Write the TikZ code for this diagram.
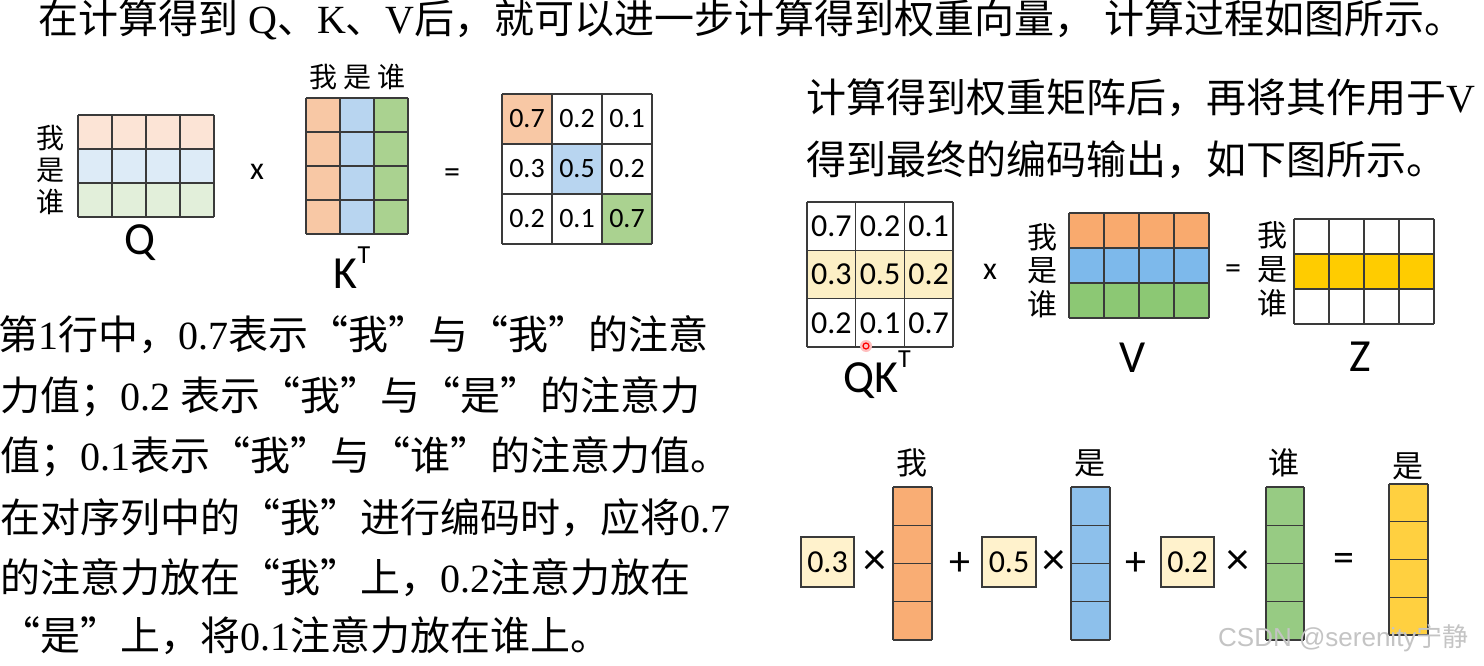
\documentclass[tikz,border=0pt]{standalone}
\usepackage{fontspec}
\setmainfont{Liberation Serif}
\newfontfamily\cjk[RawFeature=+fwid]{Noto Sans CJK SC}
\newfontfamily\cjks{Noto Sans CJK SC}
\newfontfamily\calib{Carlito}
\newfontfamily\arialf{Liberation Sans}
\newcommand\C[1]{{\cjk #1}}
\newcommand\supT{\raisebox{0.55em}{\fontsize{26}{26}\selectfont T}}
\definecolor{qO}{HTML}{FCE4D6}
\definecolor{qB}{HTML}{DDEBF7}
\definecolor{qG}{HTML}{E2EFDA}
\definecolor{kO}{HTML}{F8C8A5}
\definecolor{kB}{HTML}{B8D5F0}
\definecolor{kG}{HTML}{AAD290}
\definecolor{vO}{HTML}{F9AA6E}
\definecolor{vB}{HTML}{7DB9EB}
\definecolor{vG}{HTML}{8CC874}
\definecolor{bO}{HTML}{F9AD74}
\definecolor{bB}{HTML}{8DC0EB}
\definecolor{bG}{HTML}{97CB83}
\definecolor{bY}{HTML}{FFD040}
\definecolor{zY}{HTML}{FFCC00}
\definecolor{lY}{HTML}{FCEFC5}
\definecolor{wY}{HTML}{FFF2CC}
\definecolor{lc}{HTML}{3A3A3A}
\definecolor{wm}{HTML}{C4C4C4}
\newcommand\cellgrid[6]{%
  \foreach \i in {0,...,#3} \draw[ln] ({#1+\i*#5},#2) -- ({#1+\i*#5},{#2+#4*#6});
  \foreach \j in {0,...,#4} \draw[ln] (#1,{#2+\j*#6}) -- ({#1+#3*#5},{#2+\j*#6});}
\begin{document}
\begin{tikzpicture}[x=1pt,y=-1pt,
  ln/.style={draw=lc, line width=1.4pt},
  para/.style={anchor=west, inner sep=0pt, font=\fontsize{40}{40}\selectfont},
  lab/.style={inner sep=0pt, font=\cjks\fontsize{28}{28}\selectfont},
  blab/.style={inner sep=0pt, font=\cjks\fontsize{31}{31}\selectfont},
  num/.style={inner sep=0pt, font=\calib\fontsize{28}{28}\selectfont},
  numb/.style={inner sep=0pt, font=\calib\fontsize{32}{32}\selectfont},
  big/.style={inner sep=0pt, font=\calib\fontsize{46}{46}\selectfont},
  op/.style={inner sep=0pt, font=\calib\fontsize{32}{32}\selectfont},
  opx/.style={inner sep=0pt, font=\calib\fontsize{46}{46}\selectfont},
  opb/.style={inner sep=0pt, font=\calib\fontsize{42}{42}\selectfont},
  wbox/.style={draw=lc, line width=1.4pt, fill=wY}]
\useasboundingbox (0,0) rectangle (1484,666);
\fill[white] (0,0) rectangle (1484,666);

% title
\node[para, font=\fontsize{40}{40}\selectfont] (title) at (38,20)
  {\C{在计算得到} Q\C{、}K\C{、}V\C{后，就可以进一步计算得到权重向量，} \C{计算过程如图所示。}};

% Q matrix
\fill[qO] (78,115) rectangle (214,149);
\fill[qB] (78,149) rectangle (214,183);
\fill[qG] (78,183) rectangle (214,217);
\cellgrid{78}{115}{4}{3}{34}{34}
\node[lab] (q1) at (50,138) {我};
\node[lab] (q2) at (50,170) {是};
\node[lab] (q3) at (50,202) {谁};
\node[big] (qname) at (140,243) {Q};
\node[op] (mul1) at (257,172) {x};

% K^T matrix
\fill[kO] (306,98) rectangle (340,234);
\fill[kB] (340,98) rectangle (374,234);
\fill[kG] (374,98) rectangle (408,234);
\cellgrid{306}{98}{3}{4}{34}{34}
\node[lab] (k1) at (323,77) {我};
\node[lab] (k2) at (357,77) {是};
\node[lab] (k3) at (391,77) {谁};
\node[big] (kname) at (352,268) {K\supT};
\node[op] (eq1) at (452,176) {=};

% attention matrix
\fill[kO] (502,94) rectangle (552,144);
\fill[kB] (552,144) rectangle (602,194);
\fill[kG] (602,194) rectangle (652,244);
\cellgrid{502}{94}{3}{3}{50}{50}
\node[num] (a11) at (527,119) {0.7};
\node[num] (a12) at (577,119) {0.2};
\node[num] (a13) at (627,119) {0.1};
\node[num] (a21) at (527,169) {0.3};
\node[num] (a22) at (577,169) {0.5};
\node[num] (a23) at (627,169) {0.2};
\node[num] (a31) at (527,219) {0.2};
\node[num] (a32) at (577,219) {0.1};
\node[num] (a33) at (627,219) {0.7};

% left paragraph
\node[para] (l1) at (-2,335) {\C{第}1\C{行中，}0.7\C{表示“我”与“我”的注意}};
\node[para] (l2) at (0,397) {\C{力值；}0.2 \C{表示“我”与“是”的注意力}};
\node[para] (l3) at (0,457) {\C{值；}0.1\C{表示“我”与“谁”的注意力值。}};
\node[para] (l4) at (0,518) {\C{在对序列中的“我”进行编码时，应将}0.7};
\node[para] (l5) at (0,578) {\C{的注意力放在“我”上，}0.2\C{注意力放在}};
\node[para] (l6) at (0,636) {\C{“是”上，将}0.1\C{注意力放在谁上。}};

% right paragraph
\node[para] (r1) at (806,98) {\C{计算得到权重矩阵后，再将其作用于}V};
\node[para] (r2) at (806,160) {\C{得到最终的编码输出，如下图所示。}};

% QK^T matrix
\fill[lY] (807,250.3) rectangle (953,298.6);
\cellgrid{807}{202}{3}{3}{48.67}{48.33}
\node[numb] (b11) at (831.3,226) {0.7};
\node[numb] (b12) at (880,226) {0.2};
\node[numb] (b13) at (928.7,226) {0.1};
\node[numb] (b21) at (831.3,274.5) {0.3};
\node[numb] (b22) at (880,274.5) {0.5};
\node[numb] (b23) at (928.7,274.5) {0.2};
\node[numb] (b31) at (831.3,322.8) {0.2};
\node[numb] (b32) at (880,322.8) {0.1};
\node[numb] (b33) at (928.7,322.8) {0.7};
\node[big] (qkname) at (877,375) {QK\supT};
\fill[red!25] (866,346) circle (6);
\draw[red, line width=1.2pt] (866,346) circle (3);
\node[op] (mul2) at (990,272) {x};

% V matrix
\node[lab, font=\cjks\fontsize{30}{30}\selectfont] (v1) at (1042,237) {我};
\node[lab, font=\cjks\fontsize{30}{30}\selectfont] (v2) at (1042,271) {是};
\node[lab, font=\cjks\fontsize{30}{30}\selectfont] (v3) at (1042,304) {谁};
\fill[vO] (1069,213) rectangle (1209,248);
\fill[vB] (1069,248) rectangle (1209,283);
\fill[vG] (1069,283) rectangle (1209,318);
\cellgrid{1069}{213}{4}{3}{35}{35}
\node[big] (vname) at (1133,358) {V};
\node[op] (eq2) at (1233,272) {=};

% Z matrix
\node[lab, font=\cjks\fontsize{30}{30}\selectfont] (z1) at (1272,235) {我};
\node[lab, font=\cjks\fontsize{30}{30}\selectfont] (z2) at (1272,270) {是};
\node[lab, font=\cjks\fontsize{30}{30}\selectfont] (z3) at (1272,303) {谁};
\fill[zY] (1294,254) rectangle (1434,289);
\cellgrid{1294}{219}{4}{3}{35}{35}
\node[big] (zname) at (1360,357) {Z};

% bottom weighted sum
\node[blab] (w1) at (912,463) {我};
\node[blab] (w2) at (1090,463) {是};
\node[blab] (w3) at (1284,463) {谁};
\node[blab] (w4) at (1408,466) {是};

\draw[wbox] (801,537) rectangle (854,587);
\node[numb] (c1) at (827.5,562) {0.3};
\node[opx] (x1) at (875,562) {×};
\fill[bO] (893,487) rectangle (932,640);
\cellgrid{893}{487}{1}{4}{39}{38.25}
\node[opb] (p1) at (960,564) {+};

\draw[wbox] (982,537) rectangle (1036,587);
\node[numb] (c2) at (1009,562) {0.5};
\node[opx] (x2) at (1054,562) {×};
\fill[bB] (1071,487) rectangle (1110,640);
\cellgrid{1071}{487}{1}{4}{39}{38.25}
\node[opb] (p2) at (1136,564) {+};

\draw[wbox] (1161,537) rectangle (1214,587);
\node[numb] (c3) at (1187.5,562) {0.2};
\node[opx] (x3) at (1238,562) {×};
\fill[bG] (1266,487) rectangle (1304,640);
\cellgrid{1266}{487}{1}{4}{38}{38.25}
\node[opb] (eq3) at (1344,562) {=};

\fill[bY] (1389,484) rectangle (1428,635);
\cellgrid{1389}{484}{1}{4}{39}{37.75}

% watermark
\node[anchor=west, inner sep=0pt, text=wm, font=\arialf\fontsize{26}{26}\selectfont] (wmark) at (1218,638) {CSDN @serenity{\cjks 宁静}};
\end{tikzpicture}
\end{document}
